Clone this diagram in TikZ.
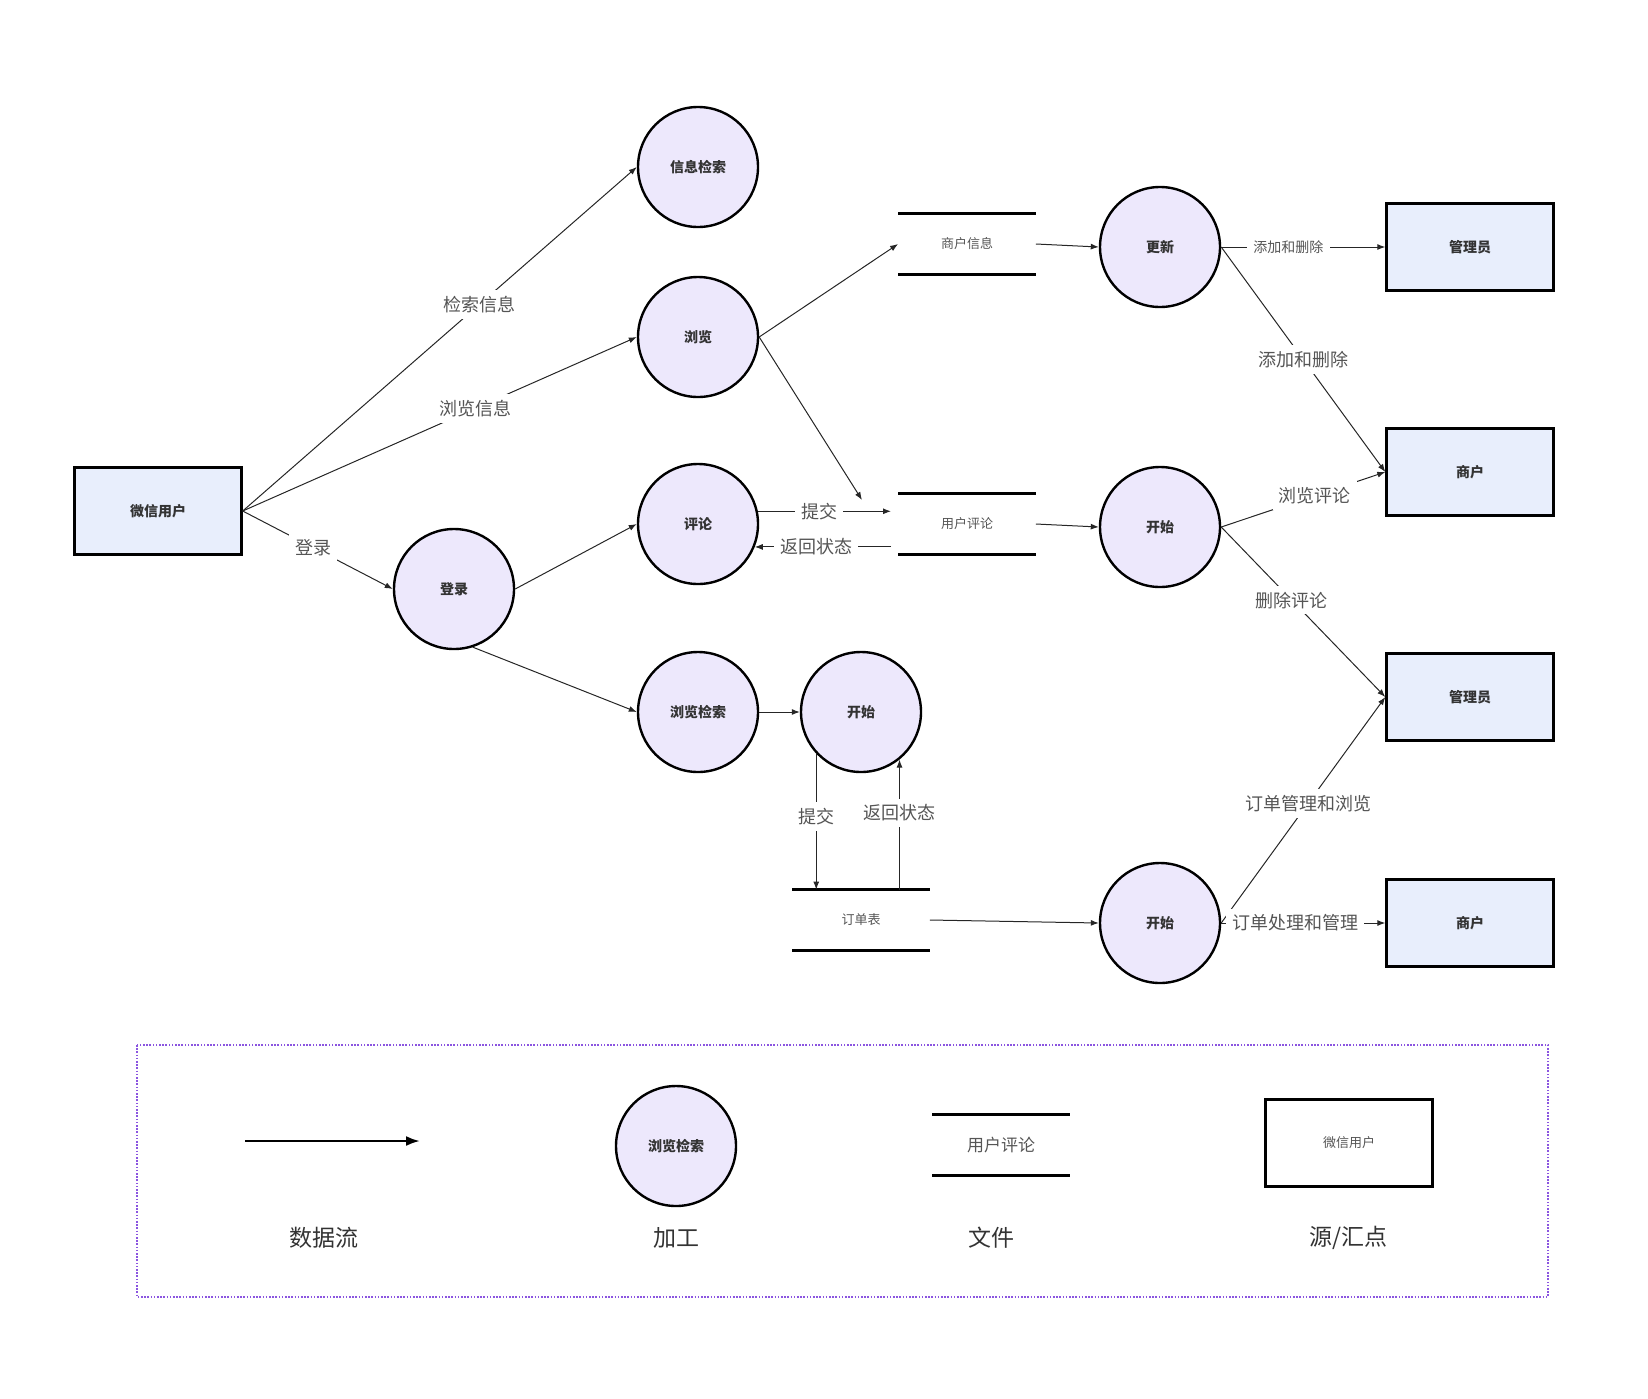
\documentclass[tikz,border=0pt]{standalone}
\usepackage{fontspec}
\setmainfont{Noto Sans CJK SC}
\usetikzlibrary{arrows.meta,positioning}
\definecolor{procfill}{HTML}{EDE8FC}
\definecolor{extfill}{HTML}{E8EEFC}
\definecolor{labgray}{HTML}{555555}
\definecolor{legpurple}{HTML}{8B55E0}
\tikzset{
	proc/.style={draw,circle,line width=1.2pt,fill=procfill,minimum size=60pt,inner sep=0pt,font=\fontsize{7}{8}\selectfont\bfseries,text=black!80},
	ext/.style={draw,rectangle,line width=1.2pt,fill=extfill,minimum width=83.5pt,minimum height=43.5pt,font=\fontsize{7}{8}\selectfont\bfseries,text=black!80},
	store/.style={rectangle,minimum width=68.5pt,minimum height=30pt,inner sep=0pt,font=\fontsize{6.5}{8}\selectfont,text=labgray},
	flow/.style={-{Latex[length=4pt,width=3pt]},line width=0.5pt,black!85},
	lab/.style={fill=white,inner sep=3pt,font=\fontsize{9}{10}\selectfont,text=labgray},
	slab/.style={fill=white,inner sep=3pt,font=\fontsize{7}{8}\selectfont,text=labgray},
	leglab/.style={font=\fontsize{11.5}{13}\selectfont,text=black!80}
}
\begin{document}
\begin{tikzpicture}[x=0.5pt,y=-0.5pt]
	\useasboundingbox (0,0) rectangle (1648,1398);
	% external entities
	\node[ext] (wxyh) at (158,511) {微信用户};
	\node[ext] (gly1) at (1470,247) {管理员};
	\node[ext] (sh1) at (1470,472) {商户};
	\node[ext] (gly2) at (1470,697) {管理员};
	\node[ext] (sh2) at (1470,923) {商户};
	% processes
	\node[proc] (xxjs) at (698,167) {信息检索};
	\node[proc] (ll) at (698,337) {浏览};
	\node[proc] (pl) at (698,524) {评论};
	\node[proc] (dl) at (454,589) {登录};
	\node[proc] (lljs) at (698,712) {浏览检索};
	\node[proc] (ks2) at (861,712) {开始};
	\node[proc] (gx) at (1160,247) {更新};
	\node[proc] (ks1) at (1160,527) {开始};
	\node[proc] (ks3) at (1160,923) {开始};
	% files
	\node[store] (shinfo) at (967,244) {商户信息};
	\node[store] (yhpl) at (967,524) {用户评论};
	\node[store] (ddb) at (861,920) {订单表};
	\foreach \s in {shinfo,yhpl,ddb}
		\draw[line width=1.2pt] (\s.north west) -- (\s.north east) (\s.south west) -- (\s.south east);
	% free ends
	\coordinate (c8) at (862,500);
	\coordinate (tjend) at (891,512);
	\coordinate (fhstart) at (891,547);

	\draw[flow] (wxyh.east) -- node[lab,pos=0.6] {检索信息} (xxjs.west);
	\draw[flow] (wxyh.east) -- node[lab,pos=0.59] {浏览信息} (ll.west);
	\draw[flow] (wxyh.east) -- node[lab,pos=0.47] {登录} (dl.west);
	\draw[flow] (dl.east) -- (pl.west);
	\draw[flow] (dl.-72) -- (lljs.west);
	\draw[flow] (lljs.east) -- (ks2.west);
	\draw[flow] (ll.east) -- (shinfo.west);
	\draw[flow] (ll.east) -- (c8);
	\draw[flow] (pl.12) -- node[lab,pos=0.46] {提交} (pl.12 -| tjend);
	\draw[flow] (pl.-22 -| fhstart) -- node[lab,pos=0.55] {返回状态} (pl.-22);
	\draw[flow] (shinfo.east) -- (gx.west);
	\draw[flow] (yhpl.east) -- (ks1.west);
	\draw[flow] (ddb.east) -- (ks3.west);
	\draw[flow] (ks2.-137) -- node[lab,pos=0.46] {提交} (ks2.-137 |- ddb.north);
	\draw[flow] (ks2.-51 |- ddb.north) -- node[lab,pos=0.59] {返回状态} (ks2.-51);
	\draw[flow] (gx.east) -- node[slab,pos=0.41] {添加和删除} (gly1.west);
	\draw[flow] (gx.east) -- node[lab,pos=0.5] {添加和删除} (sh1.west);
	\draw[flow] (ks1.east) -- node[lab,pos=0.57] {浏览评论} (sh1.west);
	\draw[flow] (ks1.east) -- node[lab,pos=0.43] {删除评论} (gly2.west);
	\draw[flow] (ks3.east) -- node[lab,pos=0.53] {订单管理和浏览} (gly2.west);
	\draw[flow] (ks3.east) -- node[lab,pos=0.45] {订单处理和管理} (sh2.west);

	% legend
	\draw[legpurple,line width=1.2pt,dash pattern=on 0.8pt off 0.8pt] (137,1045) rectangle (1548,1297);
	\coordinate (lgfrom) at (245,1141);
	\coordinate (lgto) at (420,1141);
	\draw[-{Latex[length=7pt,width=5pt]},line width=1.2pt] (lgfrom) -- (lgto);
	\node[proc] (lgproc) at (676,1146) {浏览检索};
	\node[store,font=\fontsize{8.5}{10}\selectfont] (lgfile) at (1001,1145) {用户评论};
	\draw[line width=1.2pt] (lgfile.north west) -- (lgfile.north east) (lgfile.south west) -- (lgfile.south east);
	\node[ext,fill=white,font=\fontsize{6.5}{8}\selectfont,text=labgray] (lgext) at (1349,1143) {微信用户};
	\node[leglab] (lgt1) at (324,1238) {数据流};
	\node[leglab] (lgt2) at (676,1238) {加工};
	\node[leglab] (lgt3) at (991,1238) {文件};
	\node[leglab] (lgt4) at (1348,1238) {源/汇点};
\end{tikzpicture}
\end{document}
